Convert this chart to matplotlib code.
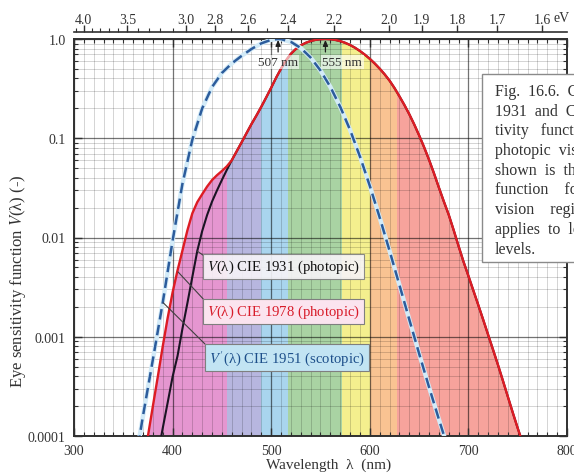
import numpy as np
import matplotlib
matplotlib.use('Agg')
import matplotlib.pyplot as plt
from matplotlib.patches import Polygon, Rectangle
from matplotlib.ticker import FixedLocator, MultipleLocator, NullFormatter

plt.rcParams['font.family'] = ['Liberation Serif', 'DejaVu Serif']
plt.rcParams['mathtext.fontset'] = 'stix'

# ---------------- data ----------------
# CIE 1931 photopic V(lambda)
wl_1931 = [380, 385, 390, 395, 400, 405, 410, 415, 420, 425, 430, 435, 440, 445, 450, 455,
           460, 465, 470, 475, 480, 485, 490, 495, 500, 505, 510, 515, 520, 525, 530, 535,
           540, 545, 550, 555, 560, 565, 570, 575, 580, 585, 590, 595, 600, 605, 610, 615,
           620, 625, 630, 635, 640, 645, 650, 655, 660, 665, 670, 675, 680, 685, 690, 695,
           700, 705, 710, 715, 720, 725, 730, 735, 740, 745, 750, 755, 760]
v_1931 = [0.000039, 0.000064, 0.00012, 0.000217, 0.000396, 0.00064, 0.00121, 0.00218,
          0.0040, 0.0073, 0.0116, 0.01684, 0.023, 0.0298, 0.038, 0.048,
          0.060, 0.0739, 0.09098, 0.1126, 0.13902, 0.1693, 0.208, 0.2586, 0.323, 0.4073,
          0.503, 0.6082, 0.710, 0.7932, 0.862, 0.9149, 0.954, 0.9803, 0.99495, 1.0, 0.995,
          0.9786, 0.952, 0.9154, 0.870, 0.8163, 0.757, 0.6949, 0.631, 0.5668, 0.503, 0.4412,
          0.381, 0.321, 0.265, 0.217, 0.175, 0.1382, 0.107, 0.0816, 0.061, 0.04458, 0.032,
          0.0232, 0.017, 0.01192, 0.00821, 0.005723, 0.004102, 0.002929, 0.002091, 0.001484,
          0.001047, 0.00074, 0.00052, 0.000361, 0.000249, 0.000172, 0.00012, 0.000085, 0.00006]

# CIE 1978 photopic: differs from 1931 in the blue (below 460 nm)
wl_1978_blue = [375, 380, 385, 390, 395, 400, 405, 410, 415, 420, 425, 430, 435, 440, 445, 450, 455]
v_1978_blue = [0.0001, 0.0002, 0.000396, 0.0008, 0.00155, 0.0028, 0.00466, 0.0074, 0.0118,
               0.0175, 0.0227, 0.0273, 0.0326, 0.0379, 0.0424, 0.0468, 0.0521]

# CIE 1951 scotopic V'(lambda)
wl_1951 = [365, 370, 380, 390, 400, 410, 420, 430, 440, 450, 460, 470, 480, 490, 500, 507,
           510, 520, 530, 540, 550, 560, 570, 580, 590, 600, 610, 620, 630, 640, 650, 660,
           670, 680]
v_1951 = [0.00008, 0.00016, 0.000589, 0.002209, 0.00929, 0.03484, 0.0966, 0.1998, 0.3281,
          0.455, 0.567, 0.676, 0.793, 0.904, 0.982, 1.0, 0.997, 0.935, 0.811, 0.650, 0.481,
          0.3288, 0.2076, 0.1212, 0.0655, 0.03315, 0.01593, 0.00737, 0.003335, 0.001497,
          0.000677, 0.0003129, 0.000148, 0.0000715]

band_edges = [370, 455, 490, 517, 572, 600, 628, 800]
band_colors = ['#e596d0', '#b7b6df', '#a9d5ee', '#a9d3a3', '#f4ef8e', '#f9c392', '#f7a39c']

x_ticks = [300, 400, 500, 600, 700, 800]
y_ticks = [1e-4, 1e-3, 1e-2, 1e-1, 1.0]
y_ticklabels = ['0.0001', '0.001', '0.01', '0.1', '1.0']
ev_major = [4.0, 3.5, 3.0, 2.8, 2.6, 2.4, 2.2, 2.0, 1.9, 1.8, 1.7, 1.6]
ev_major_labels = ['4.0', '3.5', '3.0', '2.8', '2.6', '2.4', '2.2', '2.0', '1.9', '1.8', '1.7', '1.6']
ev_minor = [4.1, 3.9, 3.8, 3.7, 3.6, 3.4, 3.3, 3.2, 3.1, 2.9, 2.7, 2.5, 2.3, 2.1]

caption_lines = ["Fig.  16.6.  CIE 1931 and",
                 "1931  and  CIE 1978 eye sensi-",
                 "tivity   function  for the",
                 "photopic  vision. Also",
                 "shown  is  the  eye",
                 "function    for  the",
                 "vision    regime  that",
                 "applies  to  low light",
                 "levels."]

# ---------------- figure ----------------
W, H = 574, 477
fig = plt.figure(figsize=(W / 100, H / 100), dpi=100)
L, R, T, B = 74, 567, 40, 437
ax = fig.add_axes([L / W, 1 - B / H, (R - L) / W, (B - T) / H])
ax.set_yscale('log')
ax.set_xlim(300, 800)
ax.set_ylim(1e-4, 1.0)

def px(x, y):
    return (x / W, 1 - y / H)

wl_1978 = list(wl_1978_blue) + [w for w in wl_1931 if w >= 460]
v_1978 = list(v_1978_blue) + [v for w, v in zip(wl_1931, v_1931) if w >= 460]

# colour bands clipped to the area below the 1978 curve
verts = list(zip(wl_1978, v_1978)) + [(wl_1978[-1], 1e-7), (wl_1978[0], 1e-7)]
clip = Polygon(verts, closed=True, transform=ax.transData, facecolor='none', edgecolor='none')
ax.add_patch(clip)
for a, b, c in zip(band_edges[:-1], band_edges[1:], band_colors):
    sp = ax.axvspan(a, b, color=c, lw=0, zorder=1)
    sp.set_clip_path(clip)

# grid
ax.xaxis.set_minor_locator(MultipleLocator(10))
ax.set_xticks(x_ticks)
ax.set_yticks(y_ticks)
ax.set_yticklabels(y_ticklabels)
ax.grid(which='minor', color='k', alpha=0.17, lw=0.7)
ax.grid(which='major', color='k', alpha=0.55, lw=0.9)

# curves
ax.plot(wl_1931, v_1931, color='#1b1424', lw=1.5, zorder=4)
ax.plot(wl_1978, v_1978, color='#dd1c24', lw=1.7, zorder=5)
ax.plot(wl_1951, v_1951, color='#d3ebf8', lw=3.2, zorder=6, solid_capstyle='butt')
ax.plot(wl_1951, v_1951, color='#2c5c9c', lw=1.8, zorder=7, dashes=(4.2, 2.2))

# ticks
for s in ax.spines.values():
    s.set_linewidth(1.4)
    s.set_color('#303030')
ax.tick_params(which='both', direction='in', top=True, right=True, colors='#303030',
               labelsize=10, labelcolor='#333333')
ax.tick_params(which='major', length=6, width=1.0, pad=6)
ax.tick_params(which='minor', length=3, width=0.8)

# energy axis on top
def conv(x):
    x = np.asarray(x, dtype=float)
    with np.errstate(divide='ignore', invalid='ignore'):
        return 1239.84 / x

sec = ax.secondary_xaxis(1 + 7 / (B - T), functions=(conv, conv))
sec.set_xticks(ev_major)
sec.set_xticklabels(ev_major_labels)
sec.xaxis.set_minor_locator(FixedLocator(ev_minor))
sec.xaxis.set_minor_formatter(NullFormatter())
sec.tick_params(which='both', direction='out', colors='#303030', labelsize=10,
                labelcolor='#333333')
sec.tick_params(which='major', length=5, width=1.0, pad=-1)
sec.tick_params(which='minor', length=3, width=0.8)
sec.spines['top'].set_linewidth(1.2)
sec.spines['top'].set_color('#303030')
fig.text(*px(553, 19), 'eV', fontsize=10, color='#333333', ha='left', va='center')

# axis labels
fig.text(*px(18, 281), 'Eye sensitivity function $V$(λ) (-)', rotation=90, fontsize=12,
         ha='center', va='center', color='#333333')
fig.text(*px(329, 465), 'Wavelength  λ  (nm)', fontsize=11, ha='center', va='center',
         color='#333333')

# peak markers
for lam, txt, ha, dx in [(507, '507 nm', 'center', 0), (555, '555 nm', 'left', -3)]:
    ax.annotate('', xy=(lam, 0.98), xytext=(lam, 0.74),
                arrowprops=dict(arrowstyle='-|>,head_length=0.35,head_width=0.15',
                                color='#202020', lw=0.9, shrinkA=0, shrinkB=0), zorder=9)
    ax.text(lam + dx, 0.585, txt, fontsize=9.5, ha=ha, va='center', color='#333333', zorder=9,
            bbox=dict(boxstyle='square,pad=0.1', fc='white', ec='none', alpha=0.6))

# labelled boxes with leader lines
boxes = [
    ('$V$(λ) CIE 1931 (photopic)', (425, 0.0073), (207, 259), '#111111', '#f7f4f8', 0.9),
    ('$V$(λ) CIE 1978 (photopic)', (405.5, 0.0045), (207, 304), '#d81c2a', '#fbe4ef', 1.0),
    ("$V'$(λ) CIE 1951 (scotopic)", (390.5, 0.0022), (209, 349), '#1d4f8a', '#c2e4f3', 1.0),
]
for txt, xy, tl, tc, fc, al in boxes:
    ax.annotate(txt, xy=xy, xycoords='data', xytext=(tl[0], H - tl[1]),
                textcoords='figure pixels', ha='left', va='top', fontsize=10.6, color=tc,
                zorder=10,
                bbox=dict(boxstyle='square,pad=0.25', fc=fc, ec='#7f7f7f', lw=0.8, alpha=al),
                arrowprops=dict(arrowstyle='-', color='#404040', lw=0.8, relpos=(0, 1),
                                shrinkA=0, shrinkB=0))

# caption box on the right
rect = Rectangle(px(482, 263), 200 / W, (263 - 75) / H, transform=fig.transFigure,
                 facecolor='white', edgecolor='#8a8a8a', lw=1.0, zorder=20)
fig.patches.append(rect)
for i, line in enumerate(caption_lines):
    fig.text(*px(495, 96 + i * 19.7), line, fontsize=11.5, ha='left', va='baseline',
             color='#333333', zorder=21)

fig.savefig('out.png', dpi=100)
